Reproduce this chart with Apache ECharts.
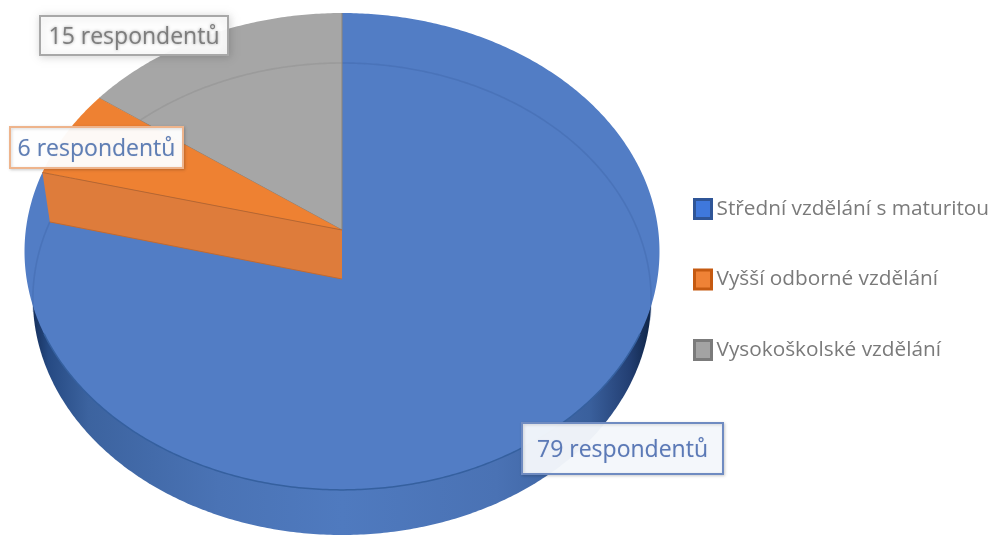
<!DOCTYPE html>
<html><head><meta charset="utf-8">
<style>html,body{margin:0;padding:0;background:#fff}#c{width:994px;height:536px;filter:blur(0.5px)}</style>
<script src="https://cdn.jsdelivr.net/npm/echarts@6/dist/echarts.min.js"></script>
</head><body><div id="c"></div>
<script>
const categories = ['Střední vzdělání s maturitou', 'Vyšší odborné vzdělání', 'Vysokoškolské vzdělání'];
const respondents = [79, 6, 15];
const labelSuffix = ' respondentů';

const colors = ['#527dc5', '#ee8132', '#a6a6a6'];
const iconFill = ['#3f78dc', '#ef8236', '#a3a3a3'];
const iconBorder = ['#2f5597', '#c55a11', '#7b7b7b'];
const seriesZ = [2, 4, 3];
const labelBoxes = [
  {x: 522, y: 423, w: 201, h: 51, stroke: '#6f8bc1', fill: 'rgba(245,248,252,0.96)', text: '#5b79b6'},
  {x: 10, y: 127, w: 173, h: 41, stroke: '#eeb48c', fill: 'rgba(255,255,255,0.96)', text: '#5f7eb4'},
  {x: 40, y: 16, w: 188, h: 39, stroke: '#a8a8a8', fill: 'rgba(255,255,255,0.94)', text: '#7d7d7d'}
];
const topDisc = {cx: 342, ay: 230, A: 236.5, B: 316.2, k: 0.09};
const baseDisc = {cx: 342, ay: 279, A: 234.3, B: 308, k: 0.0847};

const total = respondents.reduce((a, b) => a + b, 0);
const starts = respondents.map((_, i) => respondents.slice(0, i).reduce((a, b) => a + b, 0) / total * 2 * Math.PI);
function project(d, t) {
  const u = Math.sin(t), v = Math.cos(t), s = 1 / (1 + d.k * v);
  return [d.cx + d.B * u * s, d.ay - d.A * v * s];
}
function arc(d, a, b) {
  const n = Math.max(2, Math.ceil(Math.abs(b - a) / 0.01)), p = [];
  for (let i = 0; i <= n; i++) p.push(project(d, a + (b - a) * i / n));
  return p;
}
const apex = d => [d.cx, d.ay];
const rad = x => x * Math.PI / 180;
const ringStyle = {fill: null, stroke: 'rgba(44,82,146,0.22)', lineWidth: 1.6};

function labelEls(i, value) {
  const b = labelBoxes[i];
  return [
    {type: 'rect', z2: 50, shape: {x: b.x, y: b.y, width: b.w, height: b.h},
     style: {fill: b.fill, stroke: b.stroke, lineWidth: 2, shadowBlur: i === 2 ? 8 : 3, shadowColor: 'rgba(0,0,0,0.16)', shadowOffsetX: 1, shadowOffsetY: 1}},
    {type: 'text', z2: 51, style: {text: value + labelSuffix, x: b.x + b.w / 2, y: b.y + b.h / 2 + 2,
     align: 'center', verticalAlign: 'middle', fill: b.text, font: '23px "Open Sans"',
     textShadowBlur: i === 2 ? 3 : 1, textShadowColor: i === 2 ? 'rgba(0,0,0,0.35)' : 'rgba(90,120,180,0.35)'}}
  ];
}
function renderItem(i, params, api) {
  const value = api.value(0);
  const a0 = starts[i], a1 = a0 + value / total * 2 * Math.PI;
  const face = [apex(topDisc)].concat(arc(topDisc, a0, a1));
  const kids = [];
  if (i === 0) {
    kids.push({type: 'polygon', shape: {points: arc(baseDisc, 0, 2 * Math.PI)}, style: {
      fill: new echarts.graphic.LinearGradient(0, 0, 1, 0, [
        {offset: 0, color: '#16305c'}, {offset: 0.025, color: '#264a83'}, {offset: 0.09, color: '#3c639f'},
        {offset: 0.3, color: '#4a73b5'}, {offset: 0.5, color: '#4f7abf'}, {offset: 0.75, color: '#4a72b4'},
        {offset: 0.9, color: '#3a609d'}, {offset: 0.965, color: '#233f73'}, {offset: 1, color: '#0f2547'}
      ])}});
  }
  kids.push({type: 'polygon', shape: {points: face}, style: {fill: colors[i]}});
  if (i === 0) {
    kids.push({type: 'polyline', shape: {points: arc(topDisc, rad(115), rad(245))}, style: {fill: null, stroke: '#35609f', lineWidth: 1.5}});
    kids.push({type: 'polyline', shape: {points: arc(baseDisc, 0, rad(100))}, style: ringStyle});
    kids.push({type: 'polyline', shape: {points: arc(baseDisc, rad(262), a1)}, style: ringStyle});
  }
  if (i === 1) {
    const wall = [apex(topDisc), project(topDisc, a0), project(baseDisc, a0), apex(baseDisc)];
    kids.unshift({type: 'polygon', shape: {points: wall}, style: {fill: '#de7c3b'}});
    kids.push({type: 'polyline', shape: {points: [apex(topDisc), project(topDisc, a0)]}, style: {fill: null, stroke: '#b9662e', lineWidth: 1}});
    kids.push({type: 'polyline', shape: {points: [apex(baseDisc), project(baseDisc, a0)]}, style: {fill: null, stroke: '#c26a30', lineWidth: 1}});
  }
  if (i === 2) {
    kids.push({type: 'polyline', shape: {points: arc(baseDisc, a0 + rad(5), a1)}, style: {fill: null, stroke: 'rgba(130,130,130,0.3)', lineWidth: 1.6}});
    kids.push({type: 'polyline', shape: {points: [project(topDisc, a0), apex(topDisc), project(topDisc, a1)]}, style: {fill: null, stroke: '#8d8479', lineWidth: 1}});
  }
  return {type: 'group', children: kids.concat(labelEls(i, value))};
}

const chart = echarts.init(document.getElementById('c'), null, {renderer: 'canvas'});
chart.setOption({
  animation: false,
  backgroundColor: '#fff',
  legend: {
    orient: 'vertical', left: 693, top: 198, itemWidth: 17, itemHeight: 19, itemGap: 48.5, padding: 0,
    selectedMode: false, icon: 'rect',
    textStyle: {fontFamily: '"Open Sans"', fontSize: 20.8, color: '#7a7a7a'},
    data: categories.map((name, i) => ({name, itemStyle: {color: iconFill[i], borderColor: iconBorder[i], borderWidth: 3}}))
  },
  series: categories.map((name, i) => ({
    type: 'custom', name, coordinateSystem: 'none', z: seriesZ[i], silent: true,
    itemStyle: {color: colors[i]},
    data: [[respondents[i]]],
    renderItem: (params, api) => renderItem(i, params, api)
  }))
});
</script></body></html>
